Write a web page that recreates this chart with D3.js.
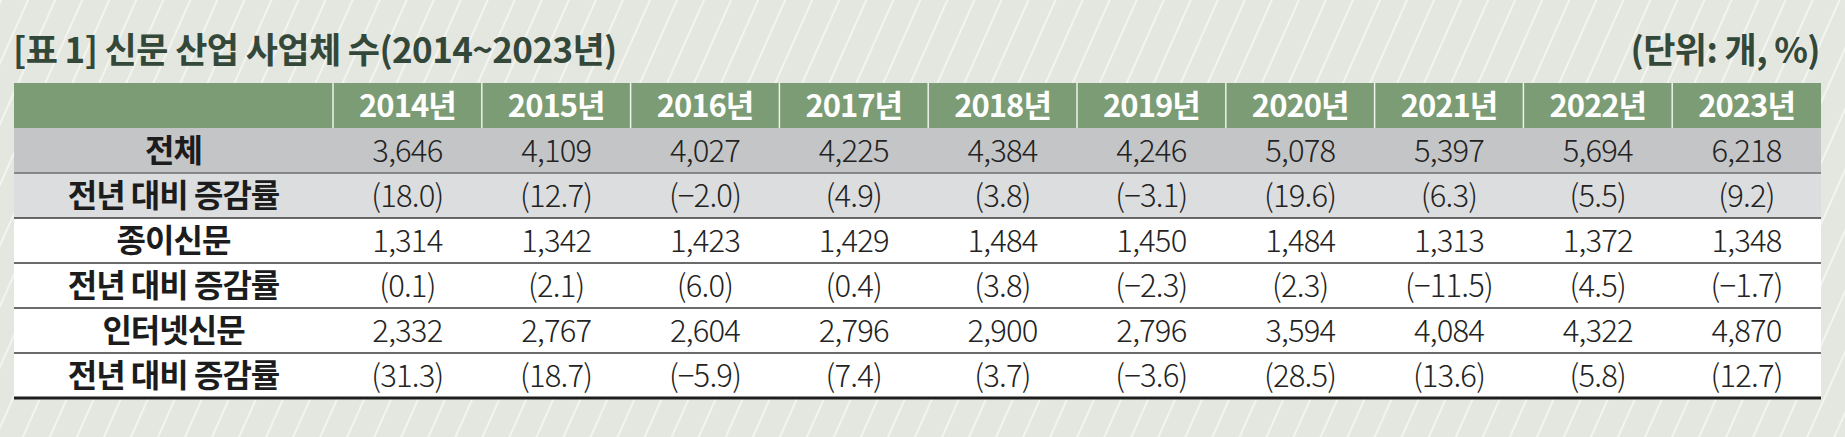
<!DOCTYPE html>
<html>
<head>
<meta charset="utf-8">
<script src="https://cdn.jsdelivr.net/npm/d3@7"></script>
<style>
  html, body { margin: 0; padding: 0; background: #e4e7e0; }
  svg { display: block; }
  text { font-family: "Noto Sans CJK KR", "Noto Sans", sans-serif; }
</style>
</head>
<body>
<div id="chart"></div>
<script>
// Table data
const years = ["2014년", "2015년", "2016년", "2017년", "2018년", "2019년", "2020년", "2021년", "2022년", "2023년"];
const rowLabels = ["전체", "전년 대비 증감률", "종이신문", "전년 대비 증감률", "인터넷신문", "전년 대비 증감률"];
const totalCount = [3646, 4109, 4027, 4225, 4384, 4246, 5078, 5397, 5694, 6218];
const totalGrowth = [18.0, 12.7, -2.0, 4.9, 3.8, -3.1, 19.6, 6.3, 5.5, 9.2];
const printCount = [1314, 1342, 1423, 1429, 1484, 1450, 1484, 1313, 1372, 1348];
const printGrowth = [0.1, 2.1, 6.0, 0.4, 3.8, -2.3, 2.3, -11.5, 4.5, -1.7];
const internetCount = [2332, 2767, 2604, 2796, 2900, 2796, 3594, 4084, 4322, 4870];
const internetGrowth = [31.3, 18.7, -5.9, 7.4, 3.7, -3.6, 28.5, 13.6, 5.8, 12.7];

const title = "[표 1] 신문 산업 사업체 수(2014~2023년)";
const unit = "(단위: 개, %)";

const width = 1845;
const height = 437;

const left = 14, right = 1821, labelRight = 333;
const headTop = 83, bodyTop = 128, bodyBottom = 398;

const countFmt = d3.format(",");
const pctFmt = (v) => `(${d3.format(".1f")(v)})`;

const rows = [
  { values: totalCount, fmt: countFmt, fill: "#c4c5c7" },
  { values: totalGrowth, fmt: pctFmt, fill: "#dcdddf" },
  { values: printCount, fmt: countFmt, fill: "#ffffff" },
  { values: printGrowth, fmt: pctFmt, fill: "#ffffff" },
  { values: internetCount, fmt: countFmt, fill: "#ffffff" },
  { values: internetGrowth, fmt: pctFmt, fill: "#ffffff" },
].map((r, i) => ({ ...r, label: rowLabels[i], index: i }));

const x = d3.scaleBand().domain(years).range([labelRight, right]);
const y = d3.scaleBand().domain(d3.range(rows.length)).range([bodyTop, bodyBottom]);

const svg = d3
  .select("#chart")
  .append("svg")
  .attr("width", width)
  .attr("height", height)
  .attr("viewBox", [0, 0, width, height]);

// Striped background
const pattern = svg
  .append("defs")
  .append("pattern")
  .attr("id", "stripes")
  .attr("patternUnits", "userSpaceOnUse")
  .attr("width", 24.7)
  .attr("height", 20)
  .attr("patternTransform", "rotate(24)");
pattern.append("rect").attr("width", 24.7).attr("height", 20).attr("fill", "#e4e7e0");
pattern.append("line").attr("x1", 1).attr("x2", 1).attr("y1", 0).attr("y2", 20)
  .attr("stroke", "#f7f8f4").attr("stroke-width", 1.6);

svg.append("rect").attr("width", width).attr("height", height).attr("fill", "url(#stripes)");

// Title and unit
svg.append("text")
  .attr("x", 13).attr("y", 50).attr("dy", "0.36em")
  .attr("font-size", 35).attr("font-weight", 700).attr("fill", "#34483a")
  .attr("letter-spacing", -0.6)
  .text(title);

svg.append("text")
  .attr("x", 1820).attr("y", 50).attr("dy", "0.36em")
  .attr("text-anchor", "end")
  .attr("font-size", 35).attr("font-weight", 700).attr("fill", "#34483a")
  .attr("letter-spacing", -0.6)
  .text(unit);

// Header
svg.append("rect")
  .attr("x", left).attr("y", headTop)
  .attr("width", right - left).attr("height", bodyTop - headTop)
  .attr("fill", "#7b9c74");

svg.append("g")
  .selectAll("line")
  .data(years)
  .join("line")
  .attr("x1", (d) => x(d)).attr("x2", (d) => x(d))
  .attr("y1", headTop).attr("y2", bodyTop)
  .attr("stroke", "#eef2ea").attr("stroke-width", 1.5);

svg.append("g")
  .selectAll("text")
  .data(years)
  .join("text")
  .attr("x", (d) => x(d) + x.bandwidth() / 2)
  .attr("y", (headTop + bodyTop) / 2)
  .attr("dy", "0.36em")
  .attr("text-anchor", "middle")
  .attr("font-size", 31).attr("font-weight", 700).attr("fill", "#ffffff")
  .attr("letter-spacing", -1)
  .text((d) => d);

// Body rows
const rowG = svg.append("g")
  .selectAll("g")
  .data(rows)
  .join("g")
  .attr("transform", (d) => `translate(0,${y(d.index)})`);

rowG.append("rect")
  .attr("x", left).attr("width", right - left)
  .attr("height", y.bandwidth())
  .attr("fill", (d) => d.fill);

rowG.append("text")
  .attr("x", (left + labelRight) / 2)
  .attr("y", y.bandwidth() / 2)
  .attr("dy", "0.36em")
  .attr("text-anchor", "middle")
  .attr("font-size", 32).attr("font-weight", 700).attr("fill", "#1c1c1c")
  .attr("letter-spacing", -1)
  .text((d) => d.label);

rowG.selectAll("text.val")
  .data((d) => d.values.map((v, i) => ({ v, year: years[i], fmt: d.fmt })))
  .join("text")
  .attr("class", "val")
  .attr("x", (d) => x(d.year) + x.bandwidth() / 2)
  .attr("y", y.bandwidth() / 2)
  .attr("dy", "0.36em")
  .attr("text-anchor", "middle")
  .attr("font-size", 31).attr("font-weight", 300).attr("fill", "#232323")
  .attr("letter-spacing", -0.8)
  .text((d) => d.fmt(d.v));

// Row separators
svg.append("g")
  .selectAll("line")
  .data(d3.range(1, rows.length))
  .join("line")
  .attr("x1", left).attr("x2", right)
  .attr("y1", (i) => y(i)).attr("y2", (i) => y(i))
  .attr("stroke", (i) => (i === 1 ? "#6e6e70" : "#3a3a3a"))
  .attr("stroke-width", 1.5);

svg.append("line")
  .attr("x1", left).attr("x2", right)
  .attr("y1", bodyBottom).attr("y2", bodyBottom)
  .attr("stroke", "#1e1e1e").attr("stroke-width", 3);
</script>
</body>
</html>
